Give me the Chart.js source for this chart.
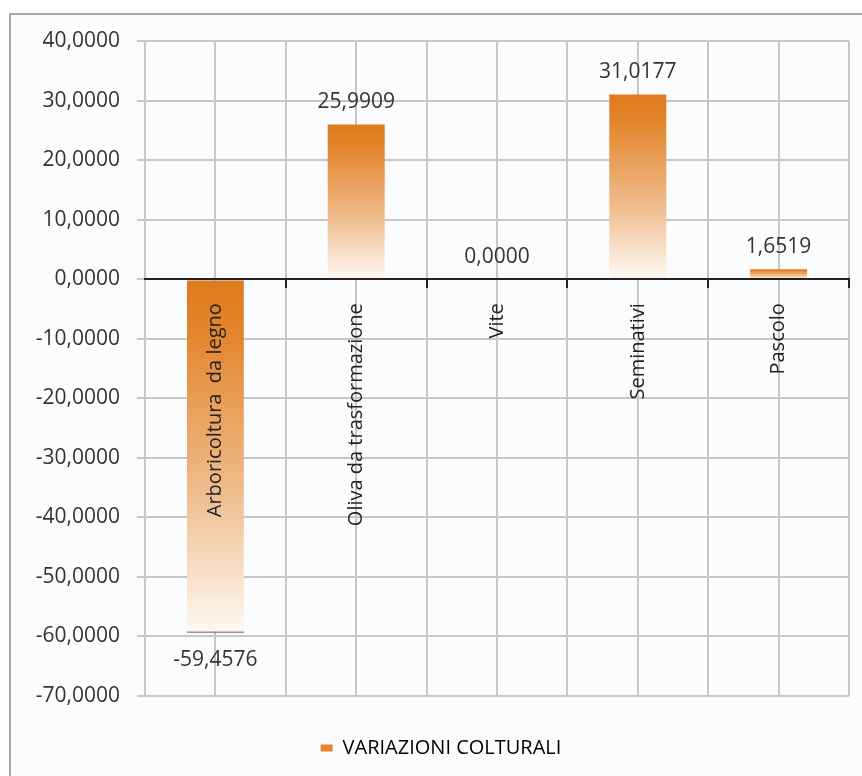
<!DOCTYPE html>
<html>
<head>
<meta charset="utf-8">
<script src="https://cdn.jsdelivr.net/npm/chart.js@4.4.1/dist/chart.umd.min.js"></script>
<style>
    html, body { margin: 0; padding: 0; background: #ffffff; }
    #frame {
        position: absolute; left: 9px; top: 13px; width: 900px; height: 800px;
        background: #fbfcfd; border-top: 2px solid #a8a8a8; border-left: 2px solid #a8a8a8;
    }
    #wrap { position: absolute; left: 0; top: 0; width: 862px; height: 776px; }
</style>
</head>
<body>
<div id="frame"></div>
<div id="wrap"><canvas id="chart" width="862" height="776"></canvas></div>
<script>
// Data for the chart
var categories = ['Arboricoltura  da legno', 'Oliva da trasformazione', 'Vite', 'Seminativi', 'Pascolo'];
var variazioni = [-59.4576, 25.9909, 0.0, 31.0177, 1.6519];
var seriesName = 'VARIAZIONI COLTURALI';
var yMin = -70, yMax = 40, yStep = 10;

var FONT = "'Open Sans', sans-serif";
var ORANGE = '#e17f20';
var GRID = '#cbc6c6';
var PAD_LEFT = 33;

function fmt(v) {
    return v.toFixed(4).replace('.', ',');
}

// vertical gradient for each bar, orange on top fading to white
function barFill(context) {
    if (context.type !== 'data') return ORANGE;
    var chart = context.chart;
    var y = chart.scales.y;
    if (!chart.chartArea || !y) return ORANGE;
    var a = y.getPixelForValue(context.raw);
    var b = y.getPixelForValue(0);
    var top = Math.min(a, b), bot = Math.max(a, b);
    if (bot - top < 2) return ORANGE;
    var g = chart.ctx.createLinearGradient(0, top, 0, bot);
    g.addColorStop(0, '#df7b1c');
    g.addColorStop(0.15, '#e3852c');
    g.addColorStop(0.6, '#efbc8c');
    g.addColorStop(1, '#fef9f4');
    return g;
}

// grid lines through the middle of each category (drawn under the bars)
var centerLines = {
    id: 'centerLines',
    beforeDatasetsDraw: function(chart) {
        var ctx = chart.ctx, area = chart.chartArea, x = chart.scales.x;
        ctx.save();
        ctx.strokeStyle = GRID;
        ctx.lineWidth = 2;
        for (var i = 0; i < categories.length; i++) {
            var px = Math.round(x.getPixelForValue(i));
            ctx.beginPath();
            ctx.moveTo(px, area.top);
            ctx.lineTo(px, area.bottom);
            ctx.stroke();
        }
        ctx.restore();
    }
};

// value labels above / below the bars
var valueLabels = {
    id: 'valueLabels',
    afterDatasetsDraw: function(chart) {
        var ctx = chart.ctx;
        var meta = chart.getDatasetMeta(0);
        ctx.save();
        ctx.font = '21px ' + FONT;
        ctx.fillStyle = '#333333';
        ctx.textAlign = 'center';
        ctx.textBaseline = 'middle';
        meta.data.forEach(function(bar, i) {
            var v = variazioni[i];
            if (v < 0) {
                ctx.fillText(fmt(v), bar.x, bar.y + 27);
            } else {
                ctx.fillText(fmt(v), bar.x, bar.y - 22);
            }
        });
        ctx.restore();
    }
};

var chart = new Chart(document.getElementById('chart').getContext('2d'), {
    type: 'bar',
    data: {
        labels: categories,
        datasets: [{
            label: seriesName,
            data: variazioni,
            backgroundColor: barFill,
            borderColor: 'rgba(110, 110, 110, 0.7)',
            borderWidth: function(context) {
                return (context.type === 'data' && context.raw < 0) ? {bottom: 2} : 0;
            },
            borderSkipped: 'start',
            barPercentage: 0.405,
            categoryPercentage: 1
        }]
    },
    options: {
        responsive: false,
        animation: false,
        layout: { padding: { left: PAD_LEFT, right: 13, top: 41, bottom: 8 } },
        plugins: {
            tooltip: { enabled: false },
            legend: {
                position: 'bottom',
                labels: {
                    boxWidth: 12,
                    boxHeight: 7,
                    padding: 42,
                    color: '#222222',
                    font: { family: FONT, size: 20 },
                    generateLabels: function() {
                        return [{ text: seriesName, fillStyle: '#e4852e', strokeStyle: '#e4852e', lineWidth: 0, datasetIndex: 0 }];
                    }
                }
            }
        },
        scales: {
            x: {
                position: { y: 0 },
                offset: true,
                grid: {
                    offset: true,
                    color: GRID,
                    lineWidth: 2,
                    tickColor: '#222222',
                    tickLength: 8,
                    tickWidth: 2
                },
                border: { color: '#222222', width: 2, z: 1 },
                ticks: {
                    z: 1,
                    minRotation: 90,
                    maxRotation: 90,
                    autoSkip: false,
                    padding: 16,
                    color: '#222222',
                    font: { family: FONT, size: 20 }
                }
            },
            y: {
                min: yMin,
                max: yMax,
                afterFit: function(scale) { scale.width = 145 - PAD_LEFT; },
                grid: { color: GRID, lineWidth: 2, tickLength: 8 },
                border: { color: GRID, width: 2 },
                ticks: {
                    stepSize: yStep,
                    padding: 17,
                    color: '#333333',
                    font: { family: FONT, size: 21 },
                    callback: function(value) { return fmt(value); }
                }
            }
        }
    },
    plugins: [centerLines, valueLabels]
});
</script>
</body>
</html>
